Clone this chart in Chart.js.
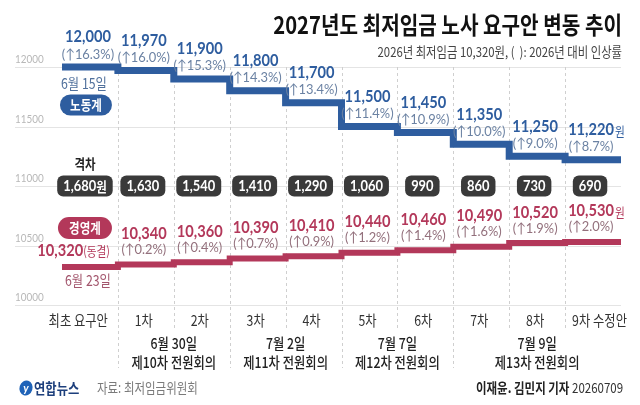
<!DOCTYPE html>
<html>
<head>
<meta charset="utf-8">
<script src="https://cdn.jsdelivr.net/npm/chart.js@4.4.1/dist/chart.umd.min.js"></script>
<style>
  html, body { margin: 0; padding: 0; background: #fff; }
  #wrap { width: 640px; height: 405px; }
</style>
</head>
<body>
<div id="wrap"><canvas id="chart" width="640" height="405"></canvas></div>
<script>
// 노사 요구안 (원)
const categories = ['최초 요구안', '1차', '2차', '3차', '4차', '5차', '6차', '7차', '8차', '9차 수정안'];
const laborValues = [12000, 11970, 11900, 11800, 11700, 11500, 11450, 11350, 11250, 11220];
const laborRates = ['16.3', '16.0', '15.3', '14.3', '13.4', '11.4', '10.9', '10.0', '9.0', '8.7'];
const mgmtValues = [10320, 10340, 10360, 10390, 10410, 10440, 10460, 10490, 10520, 10530];
const mgmtRates = ['0.0', '0.2', '0.4', '0.7', '0.9', '1.2', '1.4', '1.6', '1.9', '2.0'];
const gapValues = [1680, 1630, 1540, 1410, 1290, 1060, 990, 860, 730, 690];
const yTicks = [10000, 10500, 11000, 11500, 12000];
const meetingDates = ['6월 30일', '7월 2일', '7월 7일', '7월 9일'];
const meetingNames = ['제10차 전원회의', '제11차 전원회의', '제12차 전원회의', '제13차 전원회의'];
const meetingSpans = [[1, 3], [3, 5], [5, 7], [7, 10]];

const BLUE = '#2e5d9f';
const RED = '#b3385a';
const KR = "'Noto Sans CJK KR', 'Noto Sans', sans-serif";
const NUM = "Lato, 'Liberation Sans', 'Noto Sans CJK KR', sans-serif";
const SQ = 0.82; // 한글 장평

const fmt = v => v.toLocaleString('en-US');

// step line: 각 차수가 칸 전체를 차지
const stepPoints = vals => vals.map((v, i) => ({ x: i, y: v }))
  .concat([{ x: vals.length, y: vals[vals.length - 1] }]);

// 여러 글꼴 조각을 이어서 그림 [text, font, color, scaleX]
function runs(ctx, parts, x, y, align) {
  const widths = parts.map(p => { ctx.font = p[1]; return ctx.measureText(p[0]).width * (p[3] || 1); });
  const total = widths.reduce((a, b) => a + b, 0);
  let cx = align === 'center' ? x - total / 2 : align === 'right' ? x - total : x;
  parts.forEach((p, i) => {
    ctx.save();
    ctx.font = p[1];
    ctx.fillStyle = p[2];
    ctx.textAlign = 'left';
    ctx.textBaseline = 'middle';
    ctx.translate(cx, y);
    ctx.scale(p[3] || 1, 1);
    ctx.fillText(p[0], 0, 0);
    ctx.restore();
    cx += widths[i];
  });
  return total;
}

function pill(ctx, cx, cy, w, h, r, color) {
  ctx.beginPath();
  ctx.roundRect(cx - w / 2, cy - h / 2, w, h, r);
  ctx.fillStyle = color;
  ctx.fill();
}

const decor = {
  id: 'decor',
  beforeDatasetsDraw(chart) {
    const { ctx, chartArea, scales: { x, y } } = chart;
    ctx.save();
    // 가로 눈금선 + 눈금값
    yTicks.forEach(t => {
      const gy = Math.round(y.getPixelForValue(t)) + 0.5;
      ctx.strokeStyle = '#e4e4e4';
      ctx.lineWidth = 1;
      ctx.beginPath();
      ctx.moveTo(15, gy);
      ctx.lineTo(chartArea.right, gy);
      ctx.stroke();
      runs(ctx, [[String(t), '11px ' + NUM, '#b8b8b8', 0.9]], 15, gy - 8, 'left');
    });
    // 세로 점선
    const groupStarts = meetingSpans.map(s => s[0]);
    ctx.setLineDash([3, 3]);
    ctx.strokeStyle = '#cfcfcf';
    for (let i = 1; i < categories.length; i++) {
      const gx = Math.round(x.getPixelForValue(i)) + 0.5;
      ctx.beginPath();
      ctx.moveTo(gx, chartArea.top);
      ctx.lineTo(gx, groupStarts.includes(i) ? 368 : 330);
      ctx.stroke();
    }
    ctx.restore();
  },
  afterDatasetsDraw(chart) {
    const { ctx, scales: { x, y } } = chart;
    const cx = i => x.getPixelForValue(i + 0.5);
    const last = categories.length - 1;
    ctx.save();

    // 노동계 값
    laborValues.forEach((v, i) => {
      const ly = y.getPixelForValue(v);
      const px = cx(i) - 2;
      const numFont = 'bold 17px ' + NUM;
      ctx.font = numFont;
      const w = ctx.measureText(fmt(v)).width * 0.86;
      runs(ctx, [[fmt(v), numFont, BLUE, 0.86]], px, ly - 30, 'center');
      if (i === last) runs(ctx, [['원', '13px ' + KR, BLUE, SQ]], px + w / 2 + 1, ly - 29, 'left');
      runs(ctx, [['(↑' + laborRates[i] + '%)', '14px ' + NUM, '#6b82a3', 0.92]], px, ly - 13, 'center');
    });

    // 경영계 값
    mgmtValues.forEach((v, i) => {
      const ly = y.getPixelForValue(v);
      const px = cx(i) - 2;
      const numFont = 'bold 17px ' + NUM;
      if (i === 0) {
        runs(ctx, [[fmt(v), numFont, RED, 0.86], ['(동결)', '13px ' + KR, RED, SQ]], px + 22, ly - 16, 'right');
        return;
      }
      ctx.font = numFont;
      const w = ctx.measureText(fmt(v)).width * 0.86;
      runs(ctx, [[fmt(v), numFont, RED, 0.86]], px, ly - 31, 'center');
      if (i === last) runs(ctx, [['원', '13px ' + KR, RED, SQ]], px + w / 2 + 1, ly - 30, 'left');
      runs(ctx, [['(↑' + mgmtRates[i] + '%)', '14px ' + NUM, '#93707c', 0.92]], px, ly - 15, 'center');
    });

    // 날짜, 범례 알약
    const y0 = y.getPixelForValue(laborValues[0]);
    runs(ctx, [['6월 15일', '15px ' + KR, '#50709c', SQ]], cx(0) - 6, y0 + 16, 'center');
    pill(ctx, cx(0) - 4, y0 + 38, 52, 21, 10.5, BLUE);
    runs(ctx, [['노동계', 'bold 14px ' + KR, '#fff', SQ]], cx(0) - 4, y0 + 38, 'center');

    const m0 = y.getPixelForValue(mgmtValues[0]);
    runs(ctx, [['6월 23일', '15px ' + KR, '#a3566d', SQ]], cx(0) - 2, m0 + 13, 'center');
    pill(ctx, cx(0) - 5, m0 - 39, 54, 22, 11, RED);
    runs(ctx, [['경영계', 'bold 14px ' + KR, '#fff', SQ]], cx(0) - 5, m0 - 39, 'center');

    // 격차
    const gy = y.getPixelForValue(11000);
    runs(ctx, [['격차', 'bold 14px ' + KR, '#222', SQ]], cx(0) - 5, gy - 22, 'center');
    gapValues.forEach((g, i) => {
      const parts = [[fmt(g), 'bold 15px ' + NUM, '#fff', 0.86]];
      if (i === 0) parts.push(['원', 'bold 14px ' + KR, '#fff', SQ]);
      const w = parts.reduce((s, p) => { ctx.font = p[1]; return s + ctx.measureText(p[0]).width * p[3]; }, 0);
      const px = i === 0 ? cx(0) - 5 : cx(i) - 3;
      pill(ctx, px, gy, w + 12, 21, 6, '#3a3a3a');
      runs(ctx, parts, px, gy + 0.5, 'center');
    });

    // 가로축 라벨
    categories.forEach((c, i) => {
      if (i === 0) runs(ctx, [[c, '15px ' + KR, '#333', SQ]], x.getPixelForValue(1) - 10, 320, 'right');
      else if (i === last) runs(ctx, [[c, '15px ' + KR, '#333', SQ]], x.getPixelForValue(i) + 7, 320, 'left');
      else runs(ctx, [[c, '15px ' + KR, '#333', SQ]], cx(i) - 2, 320, 'center');
    });
    meetingSpans.forEach((s, k) => {
      const mx = (x.getPixelForValue(s[0]) + x.getPixelForValue(s[1])) / 2;
      runs(ctx, [[meetingDates[k], '500 15px ' + KR, '#222', SQ]], mx, 343, 'center');
      runs(ctx, [[meetingNames[k], '500 15px ' + KR, '#222', SQ]], mx, 362, 'center');
    });

    // 제목
    runs(ctx, [['2027년도 최저임금 노사 요구안 변동 추이', 'bold 24px ' + KR, '#111', 0.84]], 622, 25, 'right');
    runs(ctx, [['2026년 최저임금 10,320원, (  ): 2026년 대비 인상률', '13.5px ' + KR, '#444', 0.84]], 622, 52, 'right');

    // 출처
    ctx.beginPath();
    ctx.ellipse(26, 388, 6.5, 7.5, 0.3, 0, Math.PI * 2);
    ctx.fillStyle = '#1f63b8';
    ctx.fill();
    runs(ctx, [['y', 'italic bold 11px ' + NUM, '#fff', 1]], 26, 388, 'center');
    runs(ctx, [['연합뉴스', 'bold 15px ' + KR, '#1d3f7c', SQ]], 34, 388, 'left');
    runs(ctx, [['자료: 최저임금위원회', '14px ' + KR, '#7a7a7a', SQ]], 97, 388, 'left');
    runs(ctx, [['이재윤. 김민지 기자 ', 'bold 14px ' + KR, '#222', SQ], ['20260709', '14px ' + KR, '#333', SQ]], 623, 388, 'right');

    ctx.restore();
  }
};

new Chart(document.getElementById('chart'), {
  type: 'line',
  data: {
    datasets: [
      {
        label: '노동계',
        data: stepPoints(laborValues),
        stepped: true,
        borderColor: BLUE,
        borderWidth: 7,
        borderJoinStyle: 'miter',
        borderCapStyle: 'butt',
        pointRadius: 0,
        clip: false
      },
      {
        label: '경영계',
        data: stepPoints(mgmtValues),
        stepped: true,
        borderColor: RED,
        borderWidth: 6,
        borderJoinStyle: 'miter',
        borderCapStyle: 'butt',
        pointRadius: 0,
        clip: false
      }
    ]
  },
  options: {
    responsive: false,
    animation: false,
    layout: { padding: { left: 62, right: 19, top: 67, bottom: 100 } },
    plugins: { legend: { display: false }, tooltip: { enabled: false } },
    scales: {
      x: { type: 'linear', min: 0, max: categories.length, display: false },
      y: { min: 10000, max: 12000, display: false }
    }
  },
  plugins: [decor]
});
</script>
</body>
</html>
